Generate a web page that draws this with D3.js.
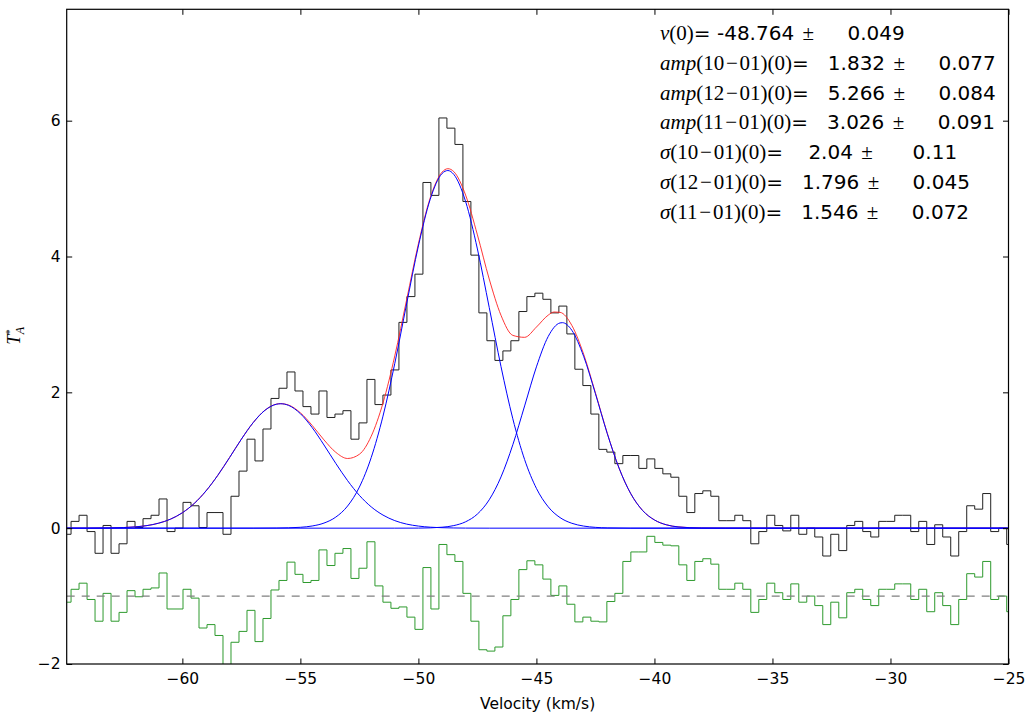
<!DOCTYPE html>
<html>
<head>
<meta charset="utf-8">
<script src="https://cdn.jsdelivr.net/npm/d3@7"></script>
<style>
  body { margin: 0; background: #fff; }
  svg { display: block; }
  .tick text { font-family: "DejaVu Sans", sans-serif; font-size: 15.5px; fill: #000; }
  .tick line { stroke: #000; stroke-width: 1; }
  .params text { white-space: pre; }
</style>
</head>
<body>
<svg id="chart" width="1032" height="722"></svg>
<script>
// ---- channel grid (km/s) ----
var v0 = -64.885, dv = 0.3388;

// observed spectrum T_A* per channel
var spectrum = [
  -0.09, 0.10, 0.19, -0.05, -0.37, 0.04, -0.37, -0.23, 0.10, 0.01,
   0.14, 0.19, 0.43, -0.05, 0.00, 0.38, 0.33, 0.01, 0.23, 0.23,
  -0.09, 0.47, 0.84, 1.31, 0.99, 1.46, 1.91, 2.06, 2.30, 2.02,
   1.79, 1.68, 2.02, 1.63, 1.68, 1.73, 1.31, 1.55, 2.19, 1.82,
   1.96, 2.33, 3.03, 3.41, 3.74, 5.09, 4.90, 6.04, 5.89, 5.65,
   4.81, 4.02, 3.17, 2.76, 2.47, 2.61, 2.76, 3.19, 3.41, 3.46,
   3.37, 3.17, 3.27, 2.86, 2.34, 2.10, 1.68, 1.16, 1.12, 0.95,
   1.07, 1.07, 0.88, 1.02, 0.88, 0.80, 0.75, 0.47, 0.23, 0.51,
   0.55, 0.47, 0.11, 0.11, 0.19, 0.11, -0.23, -0.05, 0.19, 0.04,
  -0.04, 0.19, -0.09, 0.00, -0.13, -0.41, -0.09, -0.33, 0.04, 0.10,
  -0.05, -0.13, 0.10, 0.10, 0.19, 0.19, -0.05, 0.10, -0.24, 0.05,
  -0.13, -0.41, -0.05, 0.33, 0.28, 0.51, -0.05, 0.00, -0.24
];

// residuals, as plotted (offset below zero)
var residual = [
  -1.09, -0.90, -0.81, -1.05, -1.37, -0.96, -1.37, -1.24, -0.92, -1.01,
  -0.90, -0.88, -0.66, -1.19, -1.19, -0.90, -1.03, -1.47, -1.42, -1.58,
  -2.08, -1.68, -1.52, -1.21, -1.67, -1.33, -0.91, -0.77, -0.50, -0.68,
  -0.80, -0.77, -0.32, -0.55, -0.37, -0.30, -0.74, -0.59, -0.20, -0.85,
  -1.09, -1.18, -1.16, -1.31, -1.49, -0.58, -1.19, -0.24, -0.39, -0.49,
  -0.96, -1.37, -1.79, -1.81, -1.75, -1.29, -1.05, -0.61, -0.48, -0.54,
  -0.75, -0.99, -0.85, -1.12, -1.38, -1.31, -1.37, -1.38, -1.08, -0.96,
  -0.49, -0.35, -0.35, -0.12, -0.21, -0.25, -0.26, -0.54, -0.77, -0.49,
  -0.45, -0.53, -0.90, -0.90, -0.81, -0.90, -1.24, -1.05, -0.81, -0.95,
  -1.05, -0.82, -1.09, -1.00, -1.14, -1.42, -1.09, -1.32, -0.95, -0.90,
  -1.05, -1.14, -0.90, -0.90, -0.82, -0.82, -1.05, -0.90, -1.23, -0.95,
  -1.14, -1.42, -1.05, -0.67, -0.72, -0.49, -1.05, -1.00, -1.23
];
var residualOffset = -1;

// fitted components [velocity, T]
var comp1001 = [[-65,0],[-64,0],[-63,0.004],[-62,0.019],[-61,0.074],[-60.5,0.133],[-60,0.227],[-59.5,0.363],
  [-59,0.548],[-58.5,0.778],[-58,1.04],[-57.5,1.31],[-57,1.554],[-56.5,1.736],[-56,1.826],[-55.83,1.832],
  [-55.5,1.808],[-55,1.686],[-54.5,1.481],[-54,1.225],[-53.5,0.954],[-53,0.70],[-52.5,0.483],[-52,0.314],
  [-51.5,0.193],[-51,0.111],[-50.5,0.06],[-50,0.031],[-49,0.007],[-48,0.001],[-47,0],[-25,0]];
var comp1201 = [[-65,0],[-57,0],[-56,0.002],[-55,0.013],[-54.5,0.032],[-54,0.075],[-53.5,0.163],[-53,0.326],
  [-52.5,0.605],[-52,1.039],[-51.5,1.65],[-51,2.426],[-50.5,3.301],[-50,4.155],[-49.5,4.842],[-49,5.221],
  [-48.75,5.266],[-48.5,5.209],[-48,4.81],[-47.5,4.111],[-47,3.251],[-46.5,2.379],[-46,1.611],[-45.5,1.01],
  [-45,0.586],[-44.5,0.314],[-44,0.156],[-43.5,0.072],[-43,0.031],[-42.5,0.012],[-42,0.004],[-41,0],[-25,0]];
var comp1101 = [[-65,0],[-51,0],[-50,0.001],[-49,0.014],[-48.5,0.038],[-48,0.094],[-47.5,0.208],[-47,0.418],
  [-46.5,0.755],[-46,1.228],[-45.5,1.80],[-45,2.375],[-44.5,2.823],[-44,3.022],[-43.9,3.026],[-43.5,2.914],
  [-43,2.531],[-42.5,1.98],[-42,1.395],[-41.5,0.885],[-41,0.506],[-40.5,0.26],[-40,0.121],[-39.5,0.05],
  [-39,0.019],[-38,0.002],[-37,0],[-25,0]];
var modelTotal = [[-65,0],[-64,0],[-63,0.004],[-62,0.019],[-61,0.074],[-60.5,0.133],[-60,0.227],[-59.5,0.363],
  [-59,0.548],[-58.5,0.778],[-58,1.04],[-57.5,1.31],[-57,1.554],[-56.5,1.737],[-56,1.828],[-55.83,1.834],
  [-55.5,1.813],[-55,1.699],[-54.5,1.513],[-54,1.30],[-53.5,1.117],[-53,1.026],[-52.5,1.088],[-52,1.353],
  [-51.5,1.843],[-51,2.537],[-50.5,3.361],[-50,4.187],[-49.5,4.862],[-49,5.242],[-48.75,5.293],[-48.5,5.25],
  [-48,4.905],[-47.5,4.319],[-47,3.669],[-46.5,3.134],[-46,2.839],[-45.5,2.81],[-45,2.961],[-44.5,3.137],
  [-44.25,3.183],[-44,3.178],[-43.5,2.986],[-43,2.562],[-42.5,1.992],[-42,1.399],[-41.5,0.885],[-41,0.506],
  [-40.5,0.26],[-40,0.121],[-39.5,0.05],[-39,0.019],[-38,0.002],[-37,0],[-25,0]];

// fit parameters as printed
var paramNames  = ["v", "amp", "amp", "amp", "\u03c3", "\u03c3", "\u03c3"];
var paramLines  = ["", "10\u200a\u2212\u200a01", "12\u200a\u2212\u200a01", "11\u200a\u2212\u200a01",
                   "10\u200a\u2212\u200a01", "12\u200a\u2212\u200a01", "11\u200a\u2212\u200a01"];
var paramValues = ["-48.764", "1.832", "5.266", "3.026", "2.04", "1.796", "1.546"];
var paramErrors = ["0.049", "0.077", "0.084", "0.091", "0.11", "0.045", "0.072"];

var xTicks = [-60, -55, -50, -45, -40, -35, -30, -25];
var yTicks = [-2, 0, 2, 4, 6];

var svg = d3.select("#chart");
var W = 1032, H = 722;
var plot = {left: 66.7, top: 9.3, right: 1008.5, bottom: 664};

svg.append("rect").attr("width", W).attr("height", H).attr("fill", "#fff");

var x = d3.scaleLinear().domain([-64.9, -25.0]).range([plot.left, plot.right]);
var y = d3.scaleLinear().domain([-2, 7.64]).range([plot.bottom, plot.top]);

svg.append("clipPath").attr("id", "clip")
  .append("rect")
    .attr("x", plot.left).attr("y", plot.top)
    .attr("width", plot.right - plot.left).attr("height", plot.bottom - plot.top);

var g = svg.append("g").attr("clip-path", "url(#clip)");

var chan = spectrum.map(function(d, i) { return v0 + i * dv; });

var step = d3.line().curve(d3.curveStep)
  .x(function(d) { return x(d[0]); })
  .y(function(d) { return y(d[1]); });
var smooth = d3.line().curve(d3.curveMonotoneX)
  .x(function(d) { return x(d[0]); })
  .y(function(d) { return y(d[1]); });

// spectrum
g.append("path")
  .datum(spectrum.map(function(d, i) { return [chan[i], d]; }))
  .attr("d", step).attr("fill", "none")
  .attr("stroke", "#222").attr("stroke-width", 1);

// total model
g.append("path").datum(modelTotal).attr("d", smooth)
  .attr("fill", "none").attr("stroke", "#ff2020").attr("stroke-width", 0.9);

// components
[comp1001, comp1201, comp1101].forEach(function(c) {
  g.append("path").datum(c).attr("d", smooth)
    .attr("fill", "none").attr("stroke", "#0000ff").attr("stroke-width", 1);
});

// residuals
g.append("path")
  .datum(residual.map(function(d, i) { return [chan[i], d]; }))
  .attr("d", step).attr("fill", "none")
  .attr("stroke", "#2e9a2e").attr("stroke-width", 1);

g.append("line")
  .attr("x1", plot.left).attr("x2", plot.right)
  .attr("y1", y(residualOffset)).attr("y2", y(residualOffset))
  .attr("stroke", "#808080").attr("stroke-width", 1.4)
  .attr("stroke-dasharray", "8,7");

// axes (ticks inward on all four sides)
var tk = 5.5;
svg.append("g").attr("transform", "translate(0," + plot.bottom + ")")
  .call(d3.axisBottom(x).tickValues(xTicks).tickSizeInner(-tk).tickSizeOuter(0).tickPadding(9));
svg.append("g").attr("transform", "translate(0," + plot.top + ")")
  .call(d3.axisTop(x).tickValues(xTicks).tickSizeInner(-tk).tickSizeOuter(0).tickFormat(""));
svg.append("g").attr("transform", "translate(" + plot.left + ",0)")
  .call(d3.axisLeft(y).tickValues(yTicks).tickSizeInner(-tk).tickSizeOuter(0).tickPadding(6));
svg.append("g").attr("transform", "translate(" + plot.right + ",0)")
  .call(d3.axisRight(y).tickValues(yTicks).tickSizeInner(-tk).tickSizeOuter(0).tickFormat(""));
svg.selectAll(".domain").remove();

svg.append("rect")
  .attr("x", plot.left).attr("y", plot.top)
  .attr("width", plot.right - plot.left).attr("height", plot.bottom - plot.top)
  .attr("fill", "none").attr("stroke", "#000").attr("stroke-width", 1.2);

// axis labels
svg.append("text")
  .attr("x", (plot.left + plot.right) / 2).attr("y", 709)
  .attr("text-anchor", "middle")
  .style("font-family", "DejaVu Sans").style("font-size", "15.5px")
  .text("Velocity (km/s)");

var ylab = svg.append("text")
  .attr("transform", "translate(20," + ((plot.top + plot.bottom) / 2 + 8) + ") rotate(-90)")
  .style("font-family", "Liberation Serif").style("font-size", "18px");
ylab.append("tspan").style("font-style", "italic").text("T");
ylab.append("tspan").attr("dy", -7).style("font-size", "11px").text("*");
ylab.append("tspan").attr("dx", -5).attr("dy", 11).style("font-size", "12px").style("font-style", "italic").text("A");

// fit parameter text
function pad(s) { while (s.length < 8) s = " " + s; return s; }
var pg = svg.append("g").attr("class", "params");
paramNames.forEach(function(n, i) {
  var t = pg.append("text")
    .attr("x", 660).attr("y", 40 + i * 29.8)
    .attr("xml:space", "preserve")
    .style("font-size", "20px");
  t.append("tspan").style("font-family", "Liberation Serif").style("font-style", "italic")
    .style("font-size", "21px").text(n);
  t.append("tspan").style("font-family", "Liberation Serif").style("font-size", "21px")
    .text((paramLines[i] ? "(" + paramLines[i] + ")" : "") + "(0)");
  t.append("tspan").style("font-family", "DejaVu Sans").text("=" + pad(paramValues[i]) + " ");
  t.append("tspan").attr("dx", 2).style("font-family", "Liberation Serif").style("font-size", "21px").text("\u00b1");
  t.append("tspan").attr("dx", 8).style("font-family", "DejaVu Sans").text(" " + pad(paramErrors[i]));
});
</script>
</body>
</html>
